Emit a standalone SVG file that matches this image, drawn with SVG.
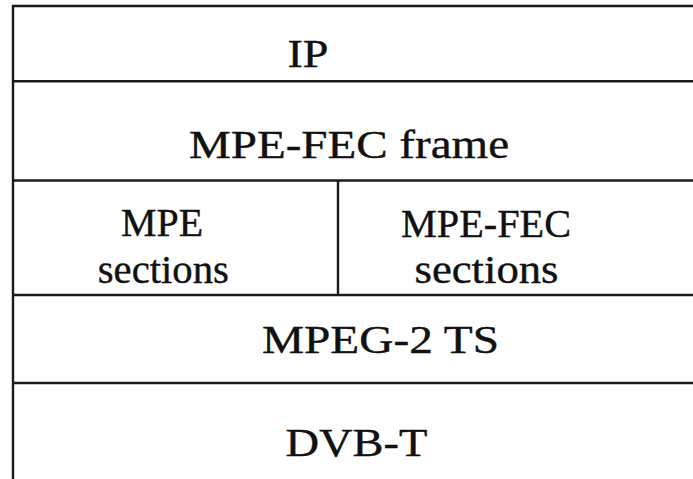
<svg xmlns="http://www.w3.org/2000/svg" width="693" height="479" viewBox="0 0 693 479">
  <style>
    .rule { stroke: #1a1a1a; stroke-width: 2.4; fill: none; }
    .lbl { font-family: "Times New Roman", "Liberation Serif", Times, serif; font-size: 40px; fill: #111; stroke: #111; stroke-width: 0.4; text-anchor: middle; }
  </style>
  <rect x="0" y="0" width="693" height="479" fill="#ffffff"/>

  <!-- layer boundaries -->
  <g id="connectors">
    <line class="rule" x1="12" y1="6" x2="693" y2="6"/>
    <line class="rule" x1="13" y1="5" x2="13" y2="479"/>
    <line class="rule" x1="13" y1="81.3" x2="693" y2="81.3"/>
    <line class="rule" x1="13" y1="180.5" x2="693" y2="180.5"/>
    <line class="rule" x1="338" y1="180.5" x2="338" y2="295"/>
    <line class="rule" x1="13" y1="295" x2="693" y2="295"/>
    <line class="rule" x1="13" y1="383" x2="693" y2="383"/>
  </g>

  <g id="ip">
    <text class="lbl" x="308" y="66.5" textLength="41" lengthAdjust="spacingAndGlyphs">IP</text>
  </g>
  <g id="mpe-fec-frame">
    <text class="lbl" x="349" y="158" textLength="320" lengthAdjust="spacingAndGlyphs">MPE-FEC frame</text>
  </g>
  <g id="mpe-sections">
    <text class="lbl" x="162" y="236" textLength="82" lengthAdjust="spacingAndGlyphs">MPE</text>
    <text class="lbl" x="163.3" y="283" textLength="131" lengthAdjust="spacingAndGlyphs">sections</text>
  </g>
  <g id="mpe-fec-sections">
    <text class="lbl" x="486" y="236.5" textLength="170" lengthAdjust="spacingAndGlyphs">MPE-FEC</text>
    <text class="lbl" x="486.5" y="283" textLength="144" lengthAdjust="spacingAndGlyphs">sections</text>
  </g>
  <g id="mpeg2-ts">
    <text class="lbl" x="380.5" y="353" textLength="237" lengthAdjust="spacingAndGlyphs">MPEG-2 TS</text>
  </g>
  <g id="dvb-t">
    <text class="lbl" x="356.5" y="456" textLength="142" lengthAdjust="spacingAndGlyphs">DVB-T</text>
  </g>
</svg>
